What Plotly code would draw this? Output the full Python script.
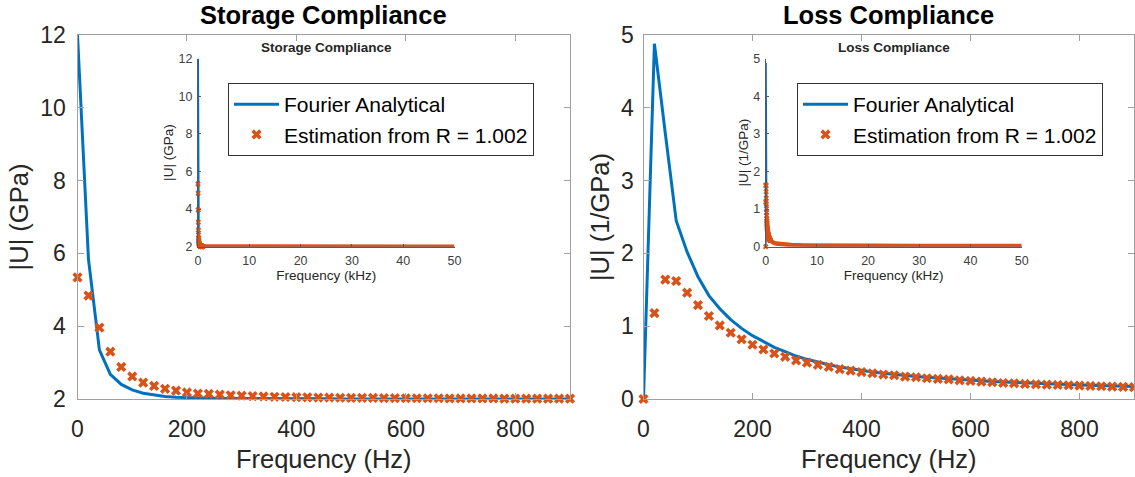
import plotly.graph_objects as go

# ---- data -------------------------------------------------------------
# Sampled frequencies (Hz), 20 Hz steps
freq_hz = list(range(0, 901, 20))

storage_analytical = [
    12.0, 5.85, 3.35, 2.68, 2.40, 2.25, 2.16, 2.11, 2.07, 2.05,
    2.035, 2.025, 2.02, 2.015, 2.012, 2.01, 2.008, 2.007, 2.006, 2.005,
    2.005, 2.004, 2.004, 2.004, 2.003, 2.003, 2.003, 2.003, 2.003, 2.002,
    2.002, 2.002, 2.002, 2.002, 2.002, 2.002, 2.002, 2.001, 2.001, 2.001,
    2.001, 2.001, 2.001, 2.001, 2.001, 2.001,
]
storage_estimation = [
    5.34, 4.84, 3.96, 3.30, 2.88, 2.62, 2.45, 2.36, 2.28, 2.23,
    2.18, 2.15, 2.14, 2.12, 2.10, 2.09, 2.08, 2.07, 2.06, 2.055,
    2.05, 2.045, 2.04, 2.04, 2.035, 2.03, 2.03, 2.03, 2.025, 2.025,
    2.02, 2.02, 2.02, 2.02, 2.015, 2.015, 2.015, 2.015, 2.015, 2.01,
    2.01, 2.01, 2.01, 2.01, 2.01, 2.01,
]
loss_analytical = [
    0.0, 4.88, 3.65, 2.45, 2.02, 1.68, 1.42, 1.24, 1.09, 0.97,
    0.87, 0.79, 0.71, 0.65, 0.59, 0.545, 0.505, 0.47, 0.44, 0.415,
    0.39, 0.372, 0.355, 0.338, 0.324, 0.31, 0.298, 0.287, 0.276, 0.266,
    0.257, 0.249, 0.241, 0.234, 0.227, 0.221, 0.215, 0.209, 0.204, 0.199,
    0.194, 0.189, 0.185, 0.181, 0.177, 0.173,
]
loss_estimation = [
    0.0, 1.18, 1.64, 1.62, 1.46, 1.29, 1.14, 1.01, 0.91, 0.82,
    0.745, 0.68, 0.625, 0.58, 0.53, 0.50, 0.47, 0.44, 0.41, 0.39,
    0.37, 0.354, 0.336, 0.326, 0.308, 0.299, 0.285, 0.276, 0.27, 0.257,
    0.248, 0.239, 0.23, 0.22, 0.216, 0.207, 0.202, 0.198, 0.193, 0.189,
    0.184, 0.179, 0.175, 0.170, 0.166, 0.163,
]

# High-frequency part shown only in the insets (kHz)
tail_khz = [1, 1.5, 2, 3, 5, 7.5, 10, 15, 20, 30, 40, 50]
storage_analytical_tail = [2.001, 2.001, 2.0, 2.0, 2.0, 2.0, 2.0, 2.0, 2.0, 2.0, 2.0, 2.0]
storage_estimation_tail = [2.01, 2.008, 2.006, 2.005, 2.004, 2.003, 2.003, 2.002, 2.002, 2.002, 2.002, 2.002]
loss_analytical_tail = [0.155, 0.105, 0.08, 0.055, 0.034, 0.023, 0.017, 0.012, 0.009, 0.006, 0.005, 0.004]
loss_estimation_tail = [0.15, 0.11, 0.085, 0.065, 0.045, 0.035, 0.03, 0.025, 0.022, 0.02, 0.018, 0.017]

main_xticks = [0, 200, 400, 600, 800]
inset_xticks = [0, 10, 20, 30, 40, 50]
storage_yticks = [2, 4, 6, 8, 10, 12]
loss_yticks = [0, 1, 2, 3, 4, 5]

# ---- styling ----------------------------------------------------------
BLUE = "#0072BD"
ORANGE = "#D95319"
FONT = "Liberation Sans, Arial, Helvetica, sans-serif"
W, H = 1135, 477


def px_x(p):
    return p / W


def px_y(p):
    return 1 - p / H


freq_khz = [f / 1000 for f in freq_hz]

fig = go.Figure()

panels = [
    # (main x, main y, inset x, inset y, legend, analytical, estimation, tails)
    ("x", "y", "x3", "y3", "legend", storage_analytical, storage_estimation,
     storage_analytical_tail, storage_estimation_tail),
    ("x2", "y2", "x4", "y4", "legend2", loss_analytical, loss_estimation,
     loss_analytical_tail, loss_estimation_tail),
]

for xa, ya, xi, yi, leg, ana, est, ana_tail, est_tail in panels:
    # main panel
    fig.add_trace(go.Scatter(
        x=freq_hz, y=ana, mode="lines", name="Fourier Analytical",
        line=dict(color=BLUE, width=3), xaxis=xa, yaxis=ya, legend=leg,
        cliponaxis=False))
    fig.add_trace(go.Scatter(
        x=freq_hz, y=est, mode="markers", name="Estimation from R = 1.002",
        marker=dict(symbol="x", size=9, color=ORANGE, line=dict(width=0)),
        xaxis=xa, yaxis=ya, legend=leg, cliponaxis=False))
    # inset: full 0-50 kHz band
    fig.add_trace(go.Scatter(
        x=freq_khz + tail_khz, y=ana + ana_tail, mode="lines",
        line=dict(color=BLUE, width=2), xaxis=xi, yaxis=yi,
        showlegend=False, cliponaxis=False))
    fig.add_trace(go.Scatter(
        x=freq_khz[-1:] + tail_khz, y=est[-1:] + est_tail, mode="lines",
        line=dict(color=ORANGE, width=4.5), xaxis=xi, yaxis=yi,
        showlegend=False, cliponaxis=False))
    fig.add_trace(go.Scatter(
        x=freq_khz, y=est, mode="markers",
        marker=dict(symbol="x", size=5, color=ORANGE, line=dict(width=0)),
        xaxis=xi, yaxis=yi, showlegend=False, cliponaxis=False))

main_axis = dict(
    showline=True, mirror="ticks", linecolor="#a0a0a0", linewidth=1,
    ticks="inside", ticklen=6, tickwidth=1, tickcolor="#a0a0a0",
    showgrid=False, zeroline=False, automargin=False,
    tickfont=dict(family=FONT, size=23, color="#262626"),
)
inset_axis = dict(
    showline=True, mirror=False, linecolor="#595959", linewidth=1,
    ticks="inside", ticklen=3, tickwidth=1, tickcolor="#595959",
    showgrid=False, zeroline=False, automargin=False,
    tickfont=dict(family=FONT, size=12.5, color="#404040"),
    ticklabelstandoff=2,
)

main_y_dom = [px_y(399), px_y(35)]
inset_y_dom = [px_y(246.7), px_y(58.5)]


def title(text, size, standoff):
    return dict(text=text, font=dict(family=FONT, size=size, color="#262626"),
                standoff=standoff)


def heading(text, x, y, size, color):
    return dict(text=f"<b>{text}</b>", x=px_x(x), y=px_y(y),
                xref="paper", yref="paper", xanchor="center", yanchor="middle",
                showarrow=False, font=dict(family=FONT, size=size, color=color))


legend_style = dict(
    xanchor="left", yanchor="top", bgcolor="white",
    bordercolor="#333333", borderwidth=1,
    font=dict(family=FONT, size=21, color="#000000"),
    itemwidth=45, tracegroupgap=0,
)

fig.update_layout(
    template="none",
    width=W, height=H, autosize=False,
    margin=dict(l=0, r=0, t=0, b=0, autoexpand=False),
    paper_bgcolor="white", plot_bgcolor="white",
    font=dict(family=FONT, color="#262626"),
    xaxis=dict(main_axis, domain=[px_x(77.5), px_x(570)], range=[0, 900],
               tickvals=main_xticks, anchor="y", ticklabelstandoff=9,
               title=title("Frequency (Hz)", 25.5, 9)),
    yaxis=dict(main_axis, domain=main_y_dom, range=[2, 12],
               tickvals=storage_yticks, anchor="x", ticklabelstandoff=6,
               title=title("|U| (GPa)", 25.5, 4)),
    xaxis2=dict(main_axis, domain=[px_x(643.5), px_x(1134)], range=[0, 900],
                tickvals=main_xticks, anchor="y2", ticklabelstandoff=9,
                title=title("Frequency (Hz)", 25.5, 9)),
    yaxis2=dict(main_axis, domain=main_y_dom, range=[0, 5],
                tickvals=loss_yticks, anchor="x2", ticklabelstandoff=4,
                title=title("|U| (1/GPa)", 25.5, 4)),
    xaxis3=dict(inset_axis, domain=[px_x(198), px_x(454.5)], range=[0, 50],
                tickvals=inset_xticks, anchor="y3",
                title=title("Frequency (kHz)", 13.5, 2)),
    yaxis3=dict(inset_axis, domain=inset_y_dom, range=[2, 12],
                tickvals=storage_yticks, anchor="x3",
                title=title("|U| (GPa)", 13.5, 1)),
    xaxis4=dict(inset_axis, domain=[px_x(765.7), px_x(1021.7)], range=[0, 50],
                tickvals=inset_xticks, anchor="y4",
                title=title("Frequency (kHz)", 13.5, 2)),
    yaxis4=dict(inset_axis, domain=inset_y_dom, range=[0, 5],
                tickvals=loss_yticks, anchor="x4",
                title=title("|U| (1/GPa)", 13.5, 1)),
    legend=dict(legend_style, x=px_x(228), y=px_y(83)),
    legend2=dict(legend_style, x=px_x(797), y=px_y(83)),
    annotations=[
        heading("Storage Compliance", 323.75, 15, 25.5, "#000000"),
        heading("Loss Compliance", 888.75, 15, 25.5, "#000000"),
        heading("Storage Compliance", 326, 48, 13.5, "#262626"),
        heading("Loss Compliance", 893.7, 48, 13.5, "#262626"),
    ],
)

fig.write_html("out.html", config={"displayModeBar": False})
